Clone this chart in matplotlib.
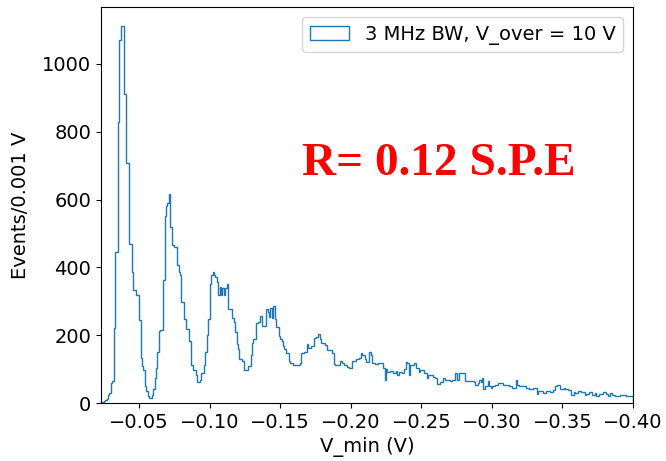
import numpy as np
import matplotlib
matplotlib.use("Agg")
import matplotlib.pyplot as plt

# histogram of V_min, bins of 0.001 V, listed from |V| = 0.023 outwards to 0.400
v_start = 0.023
bin_width = 0.001
counts = [
    2, 3, 5, 8, 12, 25, 30, 60, 65, 220,
    445, 445, 830, 1070, 1112, 1112, 912, 912, 707, 707,
    470, 470, 386, 333, 333, 318, 318, 244, 134, 110,
    98, 50, 35, 21, 15, 15, 25, 40, 75, 104,
    150, 213, 214, 214, 362, 550, 580, 589, 615, 520,
    466, 466, 460, 460, 406, 386, 377, 297, 297, 247,
    217, 217, 184, 184, 113, 98, 98, 83, 62, 62,
    68, 89, 89, 113, 150, 200, 247, 350, 377, 385,
    377, 371, 356, 318, 341, 318, 339, 318, 339, 350,
    277, 277, 277, 252, 238, 208, 173, 158, 129, 129,
    125, 98, 98, 98, 110, 110, 143, 178, 190, 190,
    235, 240, 240, 258, 228, 228, 228, 276, 267, 255,
    279, 252, 285, 247, 223, 223, 198, 190, 184, 169,
    158, 148, 148, 125, 119, 119, 111, 111, 111, 113,
    113, 119, 146, 146, 151, 151, 173, 163, 163, 169,
    169, 193, 196, 196, 203, 190, 176, 178, 178, 170,
    157, 157, 156, 156, 148, 114, 113, 113, 113, 125,
    125, 117, 113, 113, 107, 107, 104, 104, 125, 125,
    125, 129, 129, 134, 146, 141, 141, 129, 122, 122,
    151, 141, 119, 119, 114, 114, 119, 119, 117, 117,
    104, 68, 99, 92, 92, 95, 95, 89, 89, 95,
    84, 92, 92, 88, 88, 99, 122, 117, 84, 113,
    113, 113, 117, 104, 104, 92, 98, 98, 98, 89,
    89, 73, 82, 82, 82, 78, 78, 73, 57, 57,
    63, 63, 75, 75, 68, 68, 68, 64, 64, 69,
    69, 87, 69, 69, 87, 87, 87, 87, 64, 64,
    64, 64, 64, 64, 61, 54, 54, 58, 69, 61,
    74, 40, 50, 50, 64, 50, 45, 50, 50, 54,
    54, 59, 59, 59, 59, 54, 54, 54, 54, 50,
    50, 45, 45, 45, 69, 52, 50, 50, 50, 50,
    50, 45, 45, 40, 40, 40, 45, 45, 45, 28,
    35, 35, 35, 30, 30, 35, 35, 35, 32, 32,
    37, 37, 50, 54, 54, 42, 42, 42, 45, 40,
    40, 38, 38, 25, 25, 32, 30, 30, 35, 35,
    32, 32, 32, 25, 28, 28, 32, 32, 25, 25,
    30, 22, 22, 28, 28, 28, 32, 32, 28, 22,
    22, 30, 25, 25, 20, 22, 22, 22, 25, 25,
    25, 25, 22, 22, 22, 22, 22,
]
legend_label = "3 MHz BW, V_over = 10 V"
note = "R= 0.12 S.P.E"

# V_min is negative: flip so bin edges increase
edges = -(v_start + bin_width * np.arange(len(counts) + 1))[::-1]
weights = np.asarray(counts[::-1], dtype=float)
centers = 0.5 * (edges[:-1] + edges[1:])

plt.rcParams["font.size"] = 14

fig = plt.figure(figsize=(6.66, 4.61), dpi=100)
ax = fig.add_axes([0.1517, 0.1258, 0.7988, 0.859])
ax.hist(centers, bins=edges, weights=weights, histtype="step", label=legend_label)
ax.set_xlim(-v_start, -0.40)
ax.set_xlabel("V_min (V)")
ax.set_ylabel("Events/0.001 V", labelpad=9)
ax.legend(loc="upper right")
ax.text(0.378, 0.577, note, transform=ax.transAxes, color="red",
        fontsize=34, fontweight="bold", family="Liberation Serif", va="baseline")

fig.savefig("out.png", dpi=100)
